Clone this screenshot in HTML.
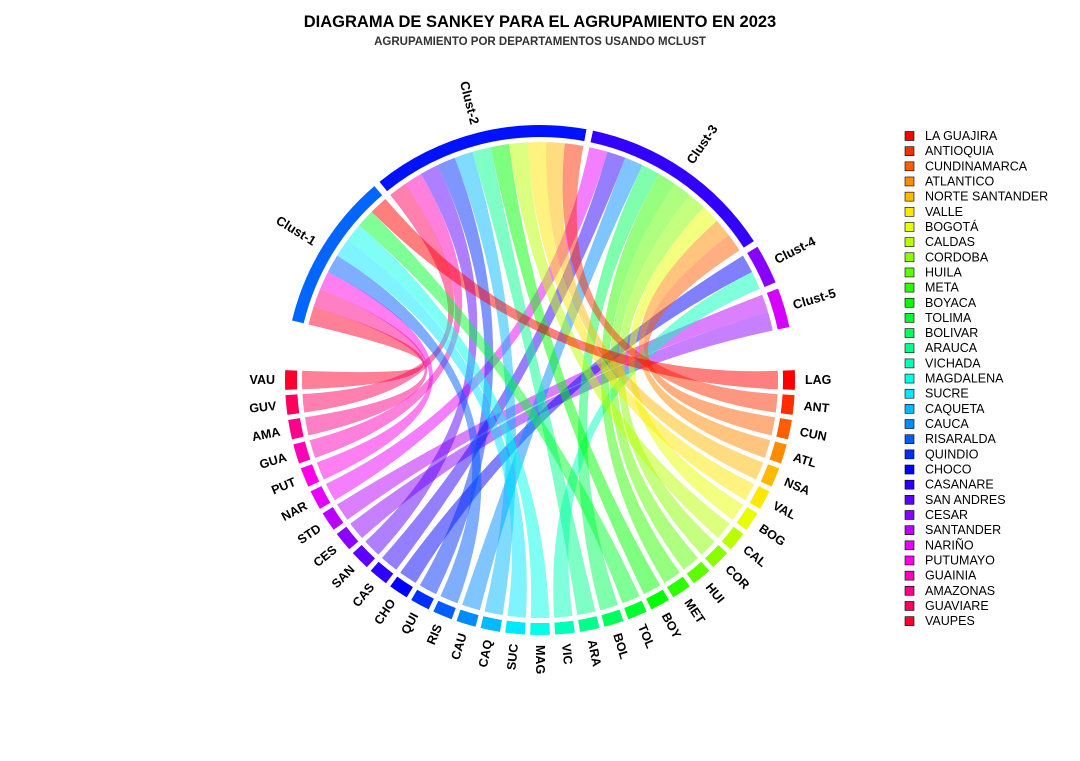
<!DOCTYPE html>
<html><head><meta charset="utf-8"><style>
body{margin:0;background:#fff;width:1080px;height:756px;overflow:hidden;font-family:"Liberation Sans",sans-serif}
</style></head><body>
<svg id="chart" width="1080" height="756" xmlns="http://www.w3.org/2000/svg">
<text x="540" y="27" text-anchor="middle" font-family="Liberation Sans" font-weight="bold" font-size="16.5">DIAGRAMA DE SANKEY PARA EL AGRUPAMIENTO EN 2023</text>
<text x="540" y="45" text-anchor="middle" font-family="Liberation Sans" font-weight="bold" font-size="11.5" fill="#333">AGRUPAMIENTO POR DEPARTAMENTOS USANDO MCLUST</text>
<g id="links"></g><g id="sectors"></g><g id="legend"></g>
</svg>
<script>
const deptCodes = ["LAG","ANT","CUN","ATL","NSA","VAL","BOG","CAL","COR","HUI","MET","BOY","TOL","BOL","ARA","VIC","MAG","SUC","CAQ","CAU","RIS","QUI","CHO","CAS","SAN","CES","STD","NAR","PUT","GUA","AMA","GUV","VAU"];
const deptNames = ["LA GUAJIRA","ANTIOQUIA","CUNDINAMARCA","ATLANTICO","NORTE SANTANDER","VALLE","BOGOTÁ","CALDAS","CORDOBA","HUILA","META","BOYACA","TOLIMA","BOLIVAR","ARAUCA","VICHADA","MAGDALENA","SUCRE","CAQUETA","CAUCA","RISARALDA","QUINDIO","CHOCO","CASANARE","SAN ANDRES","CESAR","SANTANDER","NARIÑO","PUTUMAYO","GUAINIA","AMAZONAS","GUAVIARE","VAUPES"];
const deptCluster = [1,2,3,3,2,2,3,2,3,3,3,2,1,3,2,4,1,1,2,3,1,2,4,3,2,5,5,3,1,2,1,2,1];
const clusterLabels = ["Clust-1","Clust-2","Clust-3","Clust-4","Clust-5"];
const clusterHues = [216,236,252,272,290];

const NS="http://www.w3.org/2000/svg";
const cx=540, cy=380, rOut=255, rIn=243, rLink=238;
const unit=4.45, deptPitch=180/(deptCodes.length-1), cStart=193.5, cGap=1.5, cUnit=4.5;
const rad=d=>d*Math.PI/180;
const pt=(a,r)=>[cx+r*Math.cos(rad(a)),cy+r*Math.sin(rad(a))];
const hue=i=>i*360/deptCodes.length;
function mk(tag,attrs,parent){const e=document.createElementNS(NS,tag);for(const k in attrs)e.setAttribute(k,attrs[k]);parent.appendChild(e);return e;}
function arcBlock(a1,a2){const p1=pt(a1,rOut),p2=pt(a2,rOut),p3=pt(a2,rIn),p4=pt(a1,rIn);const l=(a2-a1)>180?1:0;
 return `M${p1}A${rOut},${rOut} 0 ${l} 1 ${p2}L${p3}A${rIn},${rIn} 0 ${l} 0 ${p4}Z`;}
const sectors=document.getElementById('sectors'),links=document.getElementById('links'),legend=document.getElementById('legend');

const counts=clusterLabels.map((_,k)=>deptCluster.filter(c=>c===k+1).length);
const cRanges=[];let a=cStart;
counts.forEach(n=>{cRanges.push([a,a+n*cUnit]);a+=n*cUnit+cGap;});

function label(text,ang,r,name,size){
 const p=pt(ang,r);let rot=ang,anchor='start';
 let an=((ang%360)+360)%360;
 if(an>90&&an<270){rot=an-180;anchor='end';}
 const t=mk('text',{x:p[0],y:p[1],'text-anchor':anchor,'dominant-baseline':'central','font-family':'Liberation Sans','font-weight':'bold','font-size':size,transform:`rotate(${rot} ${p[0]} ${p[1]})`},sectors);
 
 
 t.textContent=text;}

cRanges.forEach((r,k)=>{
 const p=mk('path',{d:arcBlock(r[0],r[1]),fill:`hsl(${clusterHues[k]},100%,50%)`},sectors);
 
 
 label(clusterLabels[k],(r[0]+r[1])/2,264,'cluster-label-'+(k+1),13);
});

const cursor=cRanges.map(r=>r[0]);
const order=deptCodes.map((_,i)=>i).sort((x,y)=>y-x);
order.forEach(i=>{
 const k=deptCluster[i]-1;
 const c=i*deptPitch;const a1=c-unit/2,a2=c+unit/2;
 const b1=cursor[k],b2=b1+cUnit;cursor[k]=b2;
 const s1=pt(a1,rLink),s2=pt(a2,rLink),t1=pt(b1,rLink),t2=pt(b2,rLink);
 const ctl=`${cx},${cy}`;
 const d=`M${s1}A${rLink},${rLink} 0 0 1 ${s2}Q${ctl} ${t1}A${rLink},${rLink} 0 0 1 ${t2}Q${ctl} ${s1}Z`;
 const p=mk('path',{d:d,fill:`hsla(${hue(i)},100%,50%,0.5)`},links);
 
 
});

deptCodes.forEach((code,i)=>{
 const c=i*deptPitch;
 const p=mk('path',{d:arcBlock(c-unit/2,c+unit/2),fill:`hsl(${hue(i)},100%,50%)`},sectors);
 
 
 label(code,c,265,'dept-label-'+code.toLowerCase(),12.5);
});

deptNames.forEach((n,i)=>{
 const y=136+i*15.16;
 const r=mk('rect',{x:905,y:y-4.5,width:9,height:9,fill:`hsl(${hue(i)},100%,50%)`,stroke:'#000','stroke-width':0.6},legend);
 
 
 const t=mk('text',{x:925,y:y,'dominant-baseline':'central','font-family':'Liberation Sans','font-size':12.5},legend);
 
 
 t.textContent=n;
});
</script>
</body></html>
